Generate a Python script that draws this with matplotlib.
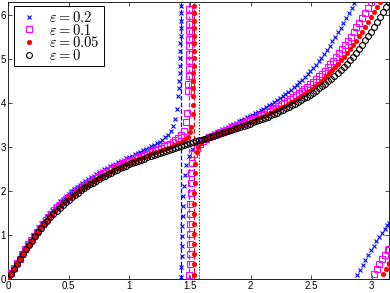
import matplotlib
matplotlib.use("Agg")
import matplotlib.pyplot as plt

plt.rcParams.update({
    "font.family": ["Liberation Sans", "DejaVu Sans"],
    "mathtext.fontset": "cm",
    "font.size": 7,
})

# ── data ──────────────────────────────────────────────────────────────────────
# eps = 0
x_0 = [0.000, 0.025, 0.050, 0.075, 0.100, 0.125, 0.150, 0.175, 0.200, 0.225, 0.250, 0.275, 0.300,
       0.325, 0.350, 0.375, 0.400, 0.425, 0.450, 0.475, 0.500, 0.525, 0.550, 0.575, 0.600, 0.625,
       0.650, 0.675, 0.700, 0.725, 0.750, 0.775, 0.800, 0.825, 0.850, 0.875, 0.900, 0.925, 0.950,
       0.975, 1.000, 1.025, 1.050, 1.075, 1.100, 1.125, 1.150, 1.175, 1.200, 1.225, 1.250, 1.275,
       1.300, 1.325, 1.350, 1.375, 1.400, 1.425, 1.450, 1.475, 1.500, 1.525, 1.550, 1.571,
       1.592, 1.617, 1.642, 1.667, 1.692, 1.717, 1.742, 1.767, 1.792, 1.817, 1.842, 1.867, 1.892,
       1.917, 1.942, 1.967, 1.992, 2.017, 2.042, 2.067, 2.092, 2.117, 2.142, 2.167, 2.192, 2.217,
       2.242, 2.267, 2.292, 2.317, 2.342, 2.367, 2.392, 2.417, 2.442, 2.467, 2.492, 2.517, 2.542,
       2.567, 2.592, 2.617, 2.642, 2.667, 2.692, 2.717, 2.742, 2.767, 2.792, 2.817, 2.842, 2.867,
       2.892, 2.917, 2.942, 2.967, 2.992, 3.017, 3.042, 3.067, 3.092, 3.117, 3.142]
y_0 = [0.000, 0.115, 0.229, 0.342, 0.454, 0.563, 0.669, 0.772, 0.872, 0.969, 1.063, 1.151, 1.237,
       1.319, 1.397, 1.472, 1.543, 1.611, 1.676, 1.738, 1.798, 1.854, 1.908, 1.959, 2.010, 2.056,
       2.103, 2.146, 2.188, 2.229, 2.268, 2.305, 2.343, 2.378, 2.412, 2.445, 2.477, 2.508, 2.538,
       2.568, 2.597, 2.625, 2.653, 2.679, 2.706, 2.732, 2.757, 2.782, 2.807, 2.832, 2.855, 2.879,
       2.901, 2.926, 2.947, 2.969, 2.992, 3.015, 3.036, 3.060, 3.080, 3.102, 3.124, 3.142,
       3.159, 3.181, 3.203, 3.223, 3.247, 3.268, 3.291, 3.314, 3.336, 3.357, 3.382, 3.404, 3.428,
       3.451, 3.476, 3.501, 3.526, 3.551, 3.577, 3.604, 3.630, 3.658, 3.686, 3.715, 3.745, 3.775,
       3.806, 3.838, 3.871, 3.905, 3.940, 3.978, 4.015, 4.054, 4.095, 4.137, 4.180, 4.227, 4.273,
       4.324, 4.375, 4.429, 4.485, 4.545, 4.607, 4.672, 4.740, 4.811, 4.886, 4.964, 5.046, 5.132,
       5.220, 5.314, 5.411, 5.511, 5.614, 5.720, 5.829, 5.941, 6.054, 6.168, 6.283]

# eps = 0.2
x_02 = [0.000, 0.023, 0.045, 0.068, 0.091, 0.114, 0.136, 0.159, 0.182, 0.205, 0.227, 0.250, 0.273,
        0.295, 0.318, 0.341, 0.364, 0.386, 0.409, 0.432, 0.455, 0.477, 0.500, 0.523, 0.545, 0.568,
        0.591, 0.614, 0.636, 0.659, 0.682, 0.705, 0.727, 0.750, 0.773, 0.795, 0.818, 0.841, 0.864,
        0.886, 0.909, 0.932, 0.955, 0.977, 1.000, 1.023, 1.045, 1.068, 1.091, 1.114, 1.136, 1.159,
        1.182, 1.205, 1.227, 1.250, 1.273, 1.295, 1.318, 1.341, 1.364, 1.380, 1.395, 1.405, 1.409,
        1.412, 1.415, 1.417, 1.419, 1.420, 1.422, 1.423, 1.424, 1.425, 1.426, 1.428,
        1.428, 1.430, 1.431, 1.433, 1.435, 1.437, 1.439, 1.442, 1.446, 1.451, 1.458,
        1.470, 1.490, 1.520, 1.560, 1.600,
        1.629, 1.652, 1.674, 1.697, 1.720, 1.742, 1.765, 1.788, 1.811, 1.833, 1.856, 1.879, 1.902,
        1.924, 1.947, 1.970, 1.992, 2.015, 2.038, 2.061, 2.083, 2.106, 2.129, 2.152, 2.174, 2.197,
        2.220, 2.242, 2.265, 2.288, 2.311, 2.333, 2.356, 2.379, 2.402, 2.424, 2.447, 2.470, 2.492,
        2.515, 2.538, 2.561, 2.583, 2.606, 2.629, 2.652, 2.674, 2.697, 2.720, 2.742, 2.765, 2.788,
        2.811, 2.833, 2.856,
        2.879, 2.902, 2.924, 2.947, 2.970, 2.992, 3.015, 3.038, 3.061, 3.083, 3.106, 3.129, 3.142]
y_02 = [0.000, 0.134, 0.248, 0.361, 0.473, 0.583, 0.689, 0.793, 0.893, 0.991, 1.085, 1.173, 1.260,
        1.342, 1.420, 1.496, 1.567, 1.636, 1.702, 1.764, 1.825, 1.881, 1.936, 1.988, 2.040, 2.086,
        2.134, 2.178, 2.221, 2.263, 2.303, 2.341, 2.380, 2.416, 2.452, 2.486, 2.520, 2.552, 2.584,
        2.616, 2.647, 2.678, 2.708, 2.737, 2.767, 2.796, 2.825, 2.855, 2.884, 2.915, 2.944, 2.976,
        3.007, 3.042, 3.076, 3.115, 3.159, 3.211, 3.272, 3.356, 3.478, 3.625, 3.861, 4.150, 4.327,
        4.50, 4.67, 4.84, 5.01, 5.18, 5.35, 5.52, 5.69, 5.86, 6.03, 6.20,
        0.05, 0.28, 0.51, 0.74, 0.97, 1.20, 1.43, 1.66, 1.89, 2.12, 2.35,
        2.580, 2.788, 2.949, 3.072, 3.157,
        3.207, 3.241, 3.277, 3.307, 3.339, 3.368, 3.399, 3.429, 3.458, 3.487, 3.516, 3.546, 3.575,
        3.606, 3.636, 3.667, 3.699, 3.731, 3.763, 3.797, 3.831, 3.867, 3.903, 3.942, 3.980, 4.020,
        4.062, 4.105, 4.149, 4.197, 4.244, 4.295, 4.347, 4.402, 4.458, 4.519, 4.582, 4.647, 4.716,
        4.787, 4.863, 4.941, 5.024, 5.110, 5.198, 5.292, 5.390, 5.490, 5.594, 5.700, 5.810, 5.922,
        6.035, 6.150, 6.265,
        0.096, 0.210, 0.323, 0.435, 0.545, 0.651, 0.754, 0.854, 0.951, 1.045, 1.133, 1.219, 1.265]

# eps = 0.1
x_01 = [0.000, 0.024, 0.048, 0.071, 0.095, 0.119, 0.143, 0.167, 0.190, 0.214, 0.238, 0.262, 0.286,
        0.310, 0.333, 0.357, 0.381, 0.405, 0.429, 0.452, 0.476, 0.500, 0.524, 0.548, 0.571, 0.595,
        0.619, 0.643, 0.667, 0.690, 0.714, 0.738, 0.762, 0.786, 0.810, 0.833, 0.857, 0.881, 0.905,
        0.929, 0.952, 0.976, 1.000, 1.024, 1.048, 1.071, 1.095, 1.119, 1.143, 1.167, 1.190, 1.214,
        1.238, 1.262, 1.286, 1.310, 1.333, 1.357, 1.381, 1.405, 1.429, 1.448, 1.467, 1.476, 1.486,
        1.487, 1.489, 1.490, 1.491, 1.492, 1.4925, 1.493, 1.494, 1.4945, 1.495, 1.4955,
        1.496, 1.497, 1.498, 1.499, 1.500, 1.501, 1.502, 1.503, 1.505, 1.508, 1.5125,
        1.520, 1.535, 1.555, 1.580, 1.610, 1.635,
        1.659, 1.683, 1.706, 1.730, 1.754, 1.778, 1.802, 1.825, 1.849, 1.873, 1.897, 1.921, 1.944,
        1.968, 1.992, 2.016, 2.040, 2.063, 2.087, 2.111, 2.135, 2.159, 2.183, 2.206, 2.230, 2.254,
        2.278, 2.302, 2.325, 2.349, 2.373, 2.397, 2.421, 2.444, 2.468, 2.492, 2.516, 2.540, 2.563,
        2.587, 2.611, 2.635, 2.659, 2.683, 2.706, 2.730, 2.754, 2.778, 2.802, 2.825, 2.849, 2.873,
        2.897, 2.921, 2.944, 2.968, 2.992,
        3.016, 3.040, 3.063, 3.087, 3.111, 3.135, 3.142]
y_01 = [0.000, 0.124, 0.238, 0.351, 0.463, 0.572, 0.678, 0.782, 0.882, 0.979, 1.073, 1.162, 1.248,
        1.330, 1.408, 1.483, 1.555, 1.623, 1.688, 1.750, 1.811, 1.867, 1.921, 1.973, 2.024, 2.070,
        2.118, 2.161, 2.204, 2.245, 2.285, 2.322, 2.361, 2.396, 2.431, 2.465, 2.497, 2.529, 2.560,
        2.591, 2.621, 2.650, 2.679, 2.707, 2.735, 2.763, 2.789, 2.817, 2.844, 2.872, 2.898, 2.925,
        2.951, 2.982, 3.009, 3.039, 3.072, 3.109, 3.149, 3.202, 3.272, 3.365, 3.552, 3.758, 4.258,
        4.43, 4.60, 4.77, 4.94, 5.11, 5.28, 5.45, 5.62, 5.79, 5.96, 6.13,
        0.10, 0.33, 0.56, 0.79, 1.02, 1.25, 1.48, 1.71, 1.94, 2.17, 2.40,
        2.634, 2.846, 2.976, 3.064, 3.132, 3.175,
        3.211, 3.244, 3.274, 3.302, 3.332, 3.358, 3.385, 3.412, 3.439, 3.467, 3.494, 3.520, 3.548,
        3.577, 3.604, 3.633, 3.662, 3.692, 3.723, 3.754, 3.786, 3.818, 3.852, 3.887, 3.922, 3.961,
        3.998, 4.038, 4.079, 4.122, 4.165, 4.213, 4.259, 4.310, 4.362, 4.416, 4.472, 4.533, 4.595,
        4.660, 4.728, 4.800, 4.875, 4.953, 5.035, 5.121, 5.210, 5.304, 5.401, 5.501, 5.604, 5.710,
        5.819, 5.931, 6.045, 6.159, 6.274,
        0.106, 0.220, 0.333, 0.445, 0.554, 0.660, 0.690]

# eps = 0.05
x_005 = [0.000, 0.024, 0.049, 0.073, 0.098, 0.122, 0.146, 0.171, 0.195, 0.220, 0.244, 0.268, 0.293,
         0.317, 0.341, 0.366, 0.390, 0.415, 0.439, 0.463, 0.488, 0.512, 0.537, 0.561, 0.585, 0.610,
         0.634, 0.659, 0.683, 0.707, 0.732, 0.756, 0.780, 0.805, 0.829, 0.854, 0.878, 0.902, 0.927,
         0.951, 0.976, 1.000, 1.024, 1.049, 1.073, 1.098, 1.122, 1.146, 1.171, 1.195, 1.220, 1.244,
         1.268, 1.293, 1.317, 1.341, 1.366, 1.390, 1.415, 1.439, 1.463, 1.483, 1.502, 1.512, 1.522,
         1.5248, 1.5265, 1.5276, 1.5284, 1.5291, 1.5296, 1.5301, 1.5305, 1.5308, 1.5312, 1.5315,
         1.5318, 1.5321, 1.5324,
         1.5327, 1.5330, 1.5335, 1.5339, 1.5343, 1.5349, 1.5355, 1.5363, 1.5373, 1.5387, 1.5409,
         1.5442, 1.555, 1.570, 1.590, 1.620, 1.650, 1.675,
         1.699, 1.724, 1.748, 1.772, 1.797, 1.821, 1.846, 1.870, 1.894, 1.919, 1.943, 1.967, 1.992,
         2.016, 2.041, 2.065, 2.089, 2.114, 2.138, 2.163, 2.187, 2.211, 2.236, 2.260, 2.285, 2.309,
         2.333, 2.358, 2.382, 2.407, 2.431, 2.455, 2.480, 2.504, 2.528, 2.553, 2.577, 2.602, 2.626,
         2.650, 2.675, 2.699, 2.724, 2.748, 2.772, 2.797, 2.821, 2.846, 2.870, 2.894, 2.919, 2.943,
         2.967, 2.992, 3.016, 3.041, 3.065,
         3.089, 3.114, 3.138, 3.142]
y_005 = [0.000, 0.119, 0.233, 0.346, 0.459, 0.568, 0.674, 0.777, 0.877, 0.974, 1.068, 1.156, 1.242,
         1.324, 1.403, 1.478, 1.549, 1.617, 1.682, 1.744, 1.804, 1.861, 1.915, 1.966, 2.017, 2.063,
         2.110, 2.154, 2.196, 2.237, 2.276, 2.314, 2.352, 2.387, 2.421, 2.455, 2.487, 2.519, 2.549,
         2.579, 2.609, 2.637, 2.666, 2.693, 2.720, 2.747, 2.773, 2.799, 2.825, 2.852, 2.876, 2.902,
         2.926, 2.954, 2.978, 3.004, 3.032, 3.061, 3.092, 3.131, 3.176, 3.231, 3.333, 3.446, 3.742,
         3.95, 4.15, 4.33, 4.50, 4.67, 4.84, 5.01, 5.18, 5.35, 5.52, 5.69,
         5.86, 6.03, 6.20,
         0.10, 0.33, 0.56, 0.79, 1.02, 1.25, 1.48, 1.71, 1.94, 2.17, 2.40,
         2.600, 2.870, 2.999, 3.078, 3.145, 3.191, 3.222,
         3.251, 3.279, 3.305, 3.330, 3.357, 3.381, 3.407, 3.431, 3.458, 3.484, 3.510, 3.536, 3.563,
         3.590, 3.617, 3.646, 3.674, 3.704, 3.734, 3.765, 3.796, 3.828, 3.862, 3.896, 3.931, 3.970,
         4.007, 4.046, 4.087, 4.129, 4.173, 4.220, 4.266, 4.317, 4.368, 4.423, 4.479, 4.539, 4.601,
         4.666, 4.734, 4.805, 4.880, 4.959, 5.041, 5.127, 5.215, 5.309, 5.406, 5.506, 5.609, 5.715,
         5.824, 5.936, 6.049, 6.163, 6.279,
         0.111, 0.225, 0.338, 0.353]

# vertical guide positions (asymptotes)
x_asym = [1.428, 1.496, 1.5325, 1.5708]

labels = [r"$\varepsilon = 0.2$", r"$\varepsilon = 0.1$", r"$\varepsilon = 0.05$", r"$\varepsilon = 0$"]

# ── figure ────────────────────────────────────────────────────────────────────
fig = plt.figure(figsize=(3.9, 2.93), dpi=100)
ax = fig.add_axes([0.0205, 0.048, 0.977, 0.945])

ax.axvline(x_asym[0], color="#0000ff", linestyle="--", linewidth=0.9, zorder=1)
ax.axvline(x_asym[1], color="#ff00ff", linestyle="--", linewidth=0.9, zorder=1)
ax.axvline(x_asym[2], color="#ff0000", linestyle="--", linewidth=0.9, zorder=1)
ax.axvline(x_asym[3], color="black", linestyle=":", linewidth=0.8, zorder=1)

ax.plot(x_02, y_02, linestyle="none", marker="x", color="#0000ff",
        markersize=3.5, markeredgewidth=0.8, label=labels[0], zorder=2)
ax.plot(x_01, y_01, linestyle="none", marker="s", color="#ff00ff", markerfacecolor="none",
        markersize=3.8, markeredgewidth=0.8, label=labels[1], zorder=3)
ax.plot(x_005, y_005, linestyle="none", marker="o", color="#ff0000",
        markersize=3.2, markeredgewidth=0.5, label=labels[2], zorder=4)
ax.plot(x_0, y_0, linestyle="none", marker="o", color="black", markerfacecolor="none",
        markersize=4.2, markeredgewidth=0.8, label=labels[3], zorder=5)

ax.set_xlim(0, 3.14159)
ax.set_ylim(0, 6.28318)
ax.set_xticks([0, 0.5, 1, 1.5, 2, 2.5, 3])
ax.set_xticklabels(["0", "0.5", "1", "1.5", "2", "2.5", "3"])
ax.set_yticks([0, 1, 2, 3, 4, 5, 6])
ax.tick_params(direction="in", length=3, width=0.5, top=True, right=True,
               labelsize=7, pad=1.5)
for sp in ax.spines.values():
    sp.set_linewidth(0.6)

leg = ax.legend(loc="upper left", bbox_to_anchor=(0.015, 0.985), borderaxespad=0,
                fontsize=10.5, numpoints=1, handlelength=1.6, handletextpad=0.6,
                labelspacing=-0.16, borderpad=0.25, fancybox=False, framealpha=1)
leg.get_frame().set_edgecolor("black")
leg.get_frame().set_linewidth(0.7)

fig.savefig("out.png", dpi=100)
